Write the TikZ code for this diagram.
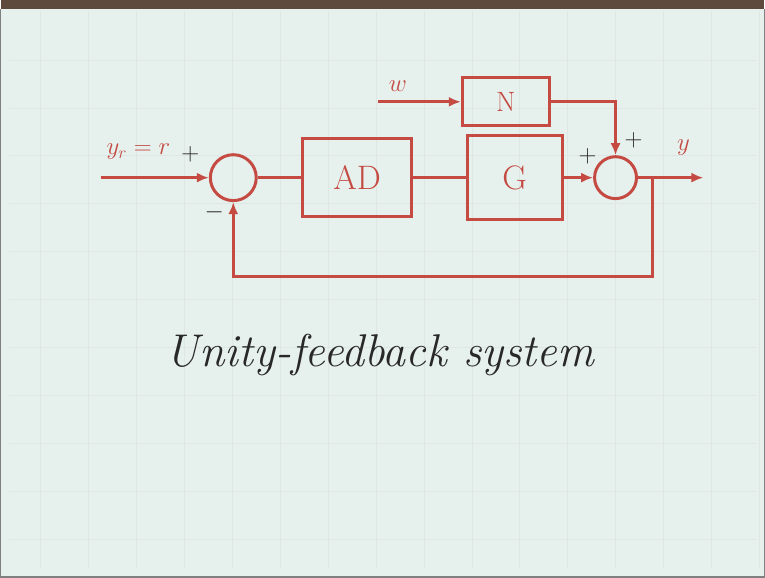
\documentclass[tikz,border=0pt]{standalone}
\usepackage{amsmath, amssymb}
\usepackage{tikz}
\usetikzlibrary{arrows.meta, calc, positioning}
\definecolor{pen}{RGB}{196,74,66}
\definecolor{board}{RGB}{230,240,237}
\definecolor{ink}{RGB}{40,40,40}
\definecolor{frame}{RGB}{95,75,62}

\begin{document}
\begin{tikzpicture}[x=1pt, y=-1pt, >={Latex[length=12pt,width=10pt]},
    blk/.style={draw=pen, line width=3pt, text=pen, font=\fontsize{34}{36}\selectfont},
    sum/.style={circle, draw=pen, line width=3pt, inner sep=0pt},
    sig/.style={draw=pen, line width=3pt},
    lbl/.style={pen, font=\fontsize{26}{28}\selectfont},
    sgn/.style={ink, font=\fontsize{24}{26}\selectfont}]
                \fill[board] (0,0) rectangle (765,578);
                \foreach \gx in {40,88,...,760} \draw[board!92!gray, line width=0.5pt] (\gx,12) -- (\gx,570);
                \foreach \gy in {60,108,...,570} \draw[board!92!gray, line width=0.5pt] (8,\gy) -- (758,\gy);
                \fill[frame] (0,0) rectangle (765,9);
                \draw[gray, line width=1.5pt] (0,9) -- (0,578) -- (765,578) -- (765,9);
                \node[sum, minimum size=46pt] (s1) at (233,178) {};
                \node[blk, minimum width=109pt, minimum height=78pt] (ad) at (357,178) {AD};
                \node[blk, minimum width=95pt, minimum height=84pt] (g) at (515,178) {G};
                \node[blk, minimum width=87pt, minimum height=48pt, font=\fontsize{28}{30}\selectfont] (n) at (506,102) {N};
                \node[sum, minimum size=42pt] (s2) at (616,178) {};
                \coordinate (in) at (100,178);
                \coordinate (w) at (378,102);
                \coordinate (br) at (653,178);
                \coordinate (yout) at (704,178);
                \coordinate (fb) at (233,277);
                \draw[sig, ->] (in) -- (s1);
                \draw[sig] (s1) -- (ad);
                \draw[sig] (ad) -- (g);
                \draw[sig, ->] (g) -- (s2);
                \draw[sig, ->] (w) -- (n);
                \draw[sig, ->] (n.east) -| (s2.north);
                \draw[sig, ->] (s2) -- (yout);
                \draw[sig, ->] (br) |- (fb) -- (s1.south);
                \node[lbl] (lr) at (138,152) {$y_r = r$};
                \node[lbl] (lw) at (398,86) {$w$};
                \node[lbl] (ly) at (684,148) {$y$};
                \node[sgn] (p1) at (190,155) {$+$};
                \node[sgn] (m1) at (214,213) {$-$};
                \node[sgn] (p2) at (588,157) {$+$};
                \node[sgn] (p3) at (634,141) {$+$};
                \node[ink, font=\fontsize{46}{52}\selectfont\itshape] (cap) at (380,356) {Unity-feedback system};
            \end{tikzpicture}
\end{document}
